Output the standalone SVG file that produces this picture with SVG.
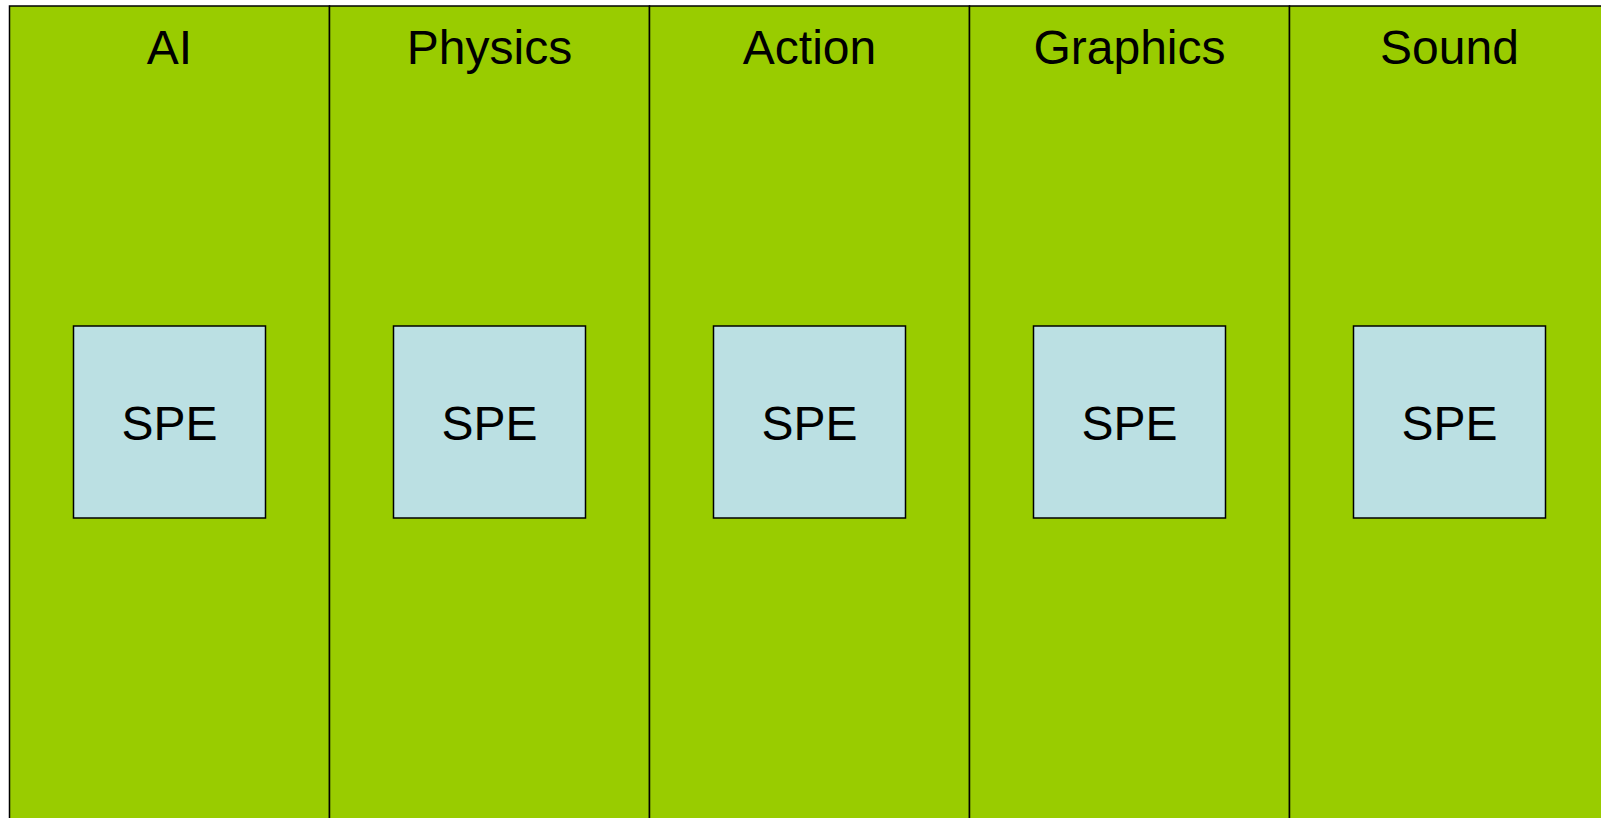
<svg xmlns="http://www.w3.org/2000/svg" width="1601" height="818" viewBox="0 0 1601 818">
  <style>
    .lane { fill: #99CC00; stroke: #000000; stroke-width: 1.5; }
    .spe { fill: #BBE0E3; stroke: #000000; stroke-width: 1.5; }
    .title, .label { font-family: "Liberation Sans", Arial, sans-serif; font-size: 48px; fill: #000000; text-anchor: middle; }
  </style>
  <rect width="1601" height="818" fill="#ffffff"/>

  <!-- lanes -->
  <g id="lane-ai">
    <rect class="lane" x="9.5" y="6" width="320" height="830"/>
    <text class="title" x="169.5" y="64">AI</text>
  </g>
  <g id="lane-physics">
    <rect class="lane" x="329.5" y="6" width="320" height="830"/>
    <text class="title" x="489.5" y="64">Physics</text>
  </g>
  <g id="lane-action">
    <rect class="lane" x="649.5" y="6" width="320" height="830"/>
    <text class="title" x="809.5" y="64">Action</text>
  </g>
  <g id="lane-graphics">
    <rect class="lane" x="969.5" y="6" width="320" height="830"/>
    <text class="title" x="1129.5" y="64">Graphics</text>
  </g>
  <g id="lane-sound">
    <rect class="lane" x="1289.5" y="6" width="340" height="830"/>
    <text class="title" x="1449.5" y="64">Sound</text>
  </g>

  <!-- SPE boxes -->
  <g id="spe-ai">
    <rect class="spe" x="73.5" y="326" width="192" height="192"/>
    <text class="label" x="169.5" y="440">SPE</text>
  </g>
  <g id="spe-physics">
    <rect class="spe" x="393.5" y="326" width="192" height="192"/>
    <text class="label" x="489.5" y="440">SPE</text>
  </g>
  <g id="spe-action">
    <rect class="spe" x="713.5" y="326" width="192" height="192"/>
    <text class="label" x="809.5" y="440">SPE</text>
  </g>
  <g id="spe-graphics">
    <rect class="spe" x="1033.5" y="326" width="192" height="192"/>
    <text class="label" x="1129.5" y="440">SPE</text>
  </g>
  <g id="spe-sound">
    <rect class="spe" x="1353.5" y="326" width="192" height="192"/>
    <text class="label" x="1449.5" y="440">SPE</text>
  </g>

  <g id="connectors"></g>
</svg>
